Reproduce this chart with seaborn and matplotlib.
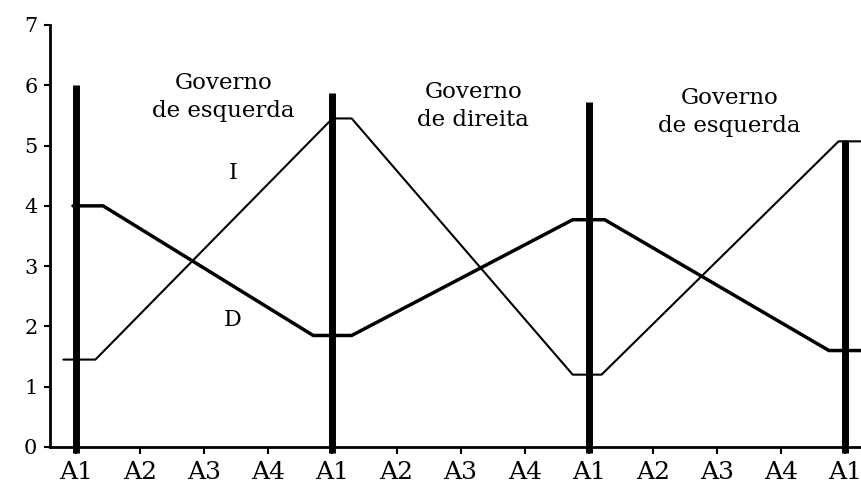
import seaborn as sns
import matplotlib.pyplot as plt
import numpy as np
import pandas as pd

# posição no eixo (0 = primeiro A1) e valores
x_I = [-0.2, 0.3, 4.0, 4.3, 7.75, 8.2, 11.9, 12.4]
val_I = [1.45, 1.45, 5.45, 5.45, 1.2, 1.2, 5.07, 5.07]
x_D = [-0.05, 0.42, 3.7, 4.3, 7.75, 8.25, 11.75, 12.4]
val_D = [4.0, 4.0, 1.85, 1.85, 3.77, 3.77, 1.6, 1.6]

mandatos = [0, 4, 8, 12]
altura_mandatos = [6.0, 5.88, 5.73, 5.1]

anos = ["A1", "A2", "A3", "A4"] * 3 + ["A1"]
governos = ["Governo\nde esquerda", "Governo\nde direita", "Governo\nde esquerda"]
pos_governos = [(2.3, 5.8), (6.2, 5.65), (10.2, 5.55)]

sns.set_style("ticks")
plt.rcParams['font.family'] = ['DejaVu Serif']
plt.rcParams['text.color'] = 'black'
plt.rcParams['xtick.color'] = 'black'
plt.rcParams['ytick.color'] = 'black'

fig = plt.figure(figsize=(8.61, 5.0), dpi=100)
ax = fig.add_axes([0.058, 0.106, 0.942, 0.844])

df_I = pd.DataFrame({"x": x_I, "y": val_I})
df_D = pd.DataFrame({"x": x_D, "y": val_D})
sns.lineplot(data=df_I, x="x", y="y", sort=False, color="black", linewidth=1.5, ax=ax)
sns.lineplot(data=df_D, x="x", y="y", sort=False, color="black", linewidth=2.5, ax=ax)

ax.vlines(mandatos, -0.1, altura_mandatos, color="black", linewidth=5, clip_on=False)

for txt, (px, py) in zip(governos, pos_governos):
    ax.text(px, py, txt, ha="center", va="center", fontsize=16.5, linespacing=1.35)
ax.text(2.45, 4.55, "I", ha="center", va="center", fontsize=16)
ax.text(2.45, 2.1, "D", ha="center", va="center", fontsize=16)

ax.set_xlim(-0.41, 12.25)
ax.set_ylim(0, 7)
ax.set_xticks(range(len(anos)))
ax.set_xticklabels(anos, fontsize=18)
ax.set_yticks(range(8))
ax.set_yticklabels([str(i) for i in range(8)], fontsize=15)
ax.tick_params(axis="x", length=5, width=1.5, pad=5)
ax.tick_params(axis="y", length=4, width=1.5, pad=5)
ax.set_xlabel("")
ax.set_ylabel("")
for s in ["top", "right"]:
    ax.spines[s].set_visible(False)
for s in ["left", "bottom"]:
    ax.spines[s].set_linewidth(2)
    ax.spines[s].set_color("black")

plt.savefig("out.png", dpi=100)
